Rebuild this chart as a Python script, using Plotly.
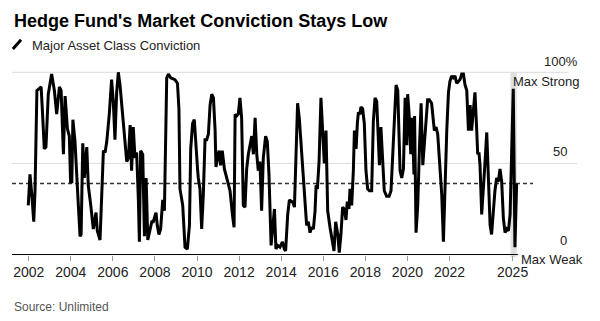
import plotly.graph_objects as go

# ---- data (decimal year, % conviction) ----
dates = [
    2001.98, 2002.06, 2002.14, 2002.24, 2002.30, 2002.39, 2002.50, 2002.59, 2002.66, 2002.74,
    2002.82, 2002.93, 2003.09, 2003.22, 2003.33, 2003.46, 2003.54, 2003.65, 2003.73, 2003.84,
    2003.93, 2003.99, 2004.05, 2004.10, 2004.20, 2004.28, 2004.36, 2004.44, 2004.49, 2004.57,
    2004.64, 2004.76, 2004.83, 2004.95, 2005.07, 2005.20, 2005.26, 2005.39, 2005.55, 2005.63,
    2005.71, 2005.83, 2005.94, 2006.02, 2006.10, 2006.18, 2006.26, 2006.34, 2006.44, 2006.53,
    2006.63, 2006.66, 2006.74, 2006.82, 2006.89, 2006.97, 2007.05, 2007.13, 2007.21, 2007.26,
    2007.32, 2007.42, 2007.50, 2007.58, 2007.66, 2007.77, 2007.85, 2007.92, 2008.05, 2008.11,
    2008.19, 2008.27, 2008.37, 2008.45, 2008.51, 2008.56, 2008.64, 2008.75, 2008.95, 2009.07,
    2009.14, 2009.19, 2009.32, 2009.43, 2009.54, 2009.64, 2009.70, 2009.79, 2009.87, 2009.95,
    2010.03, 2010.06, 2010.14, 2010.22, 2010.30, 2010.38, 2010.46, 2010.54, 2010.62, 2010.70,
    2010.78, 2010.86, 2010.90, 2010.97, 2011.05, 2011.12, 2011.20, 2011.30, 2011.41, 2011.57,
    2011.68, 2011.76, 2011.81, 2011.88, 2011.96, 2012.04, 2012.12, 2012.20, 2012.28, 2012.36,
    2012.44, 2012.52, 2012.60, 2012.68, 2012.76, 2012.84, 2012.91, 2012.99, 2013.07, 2013.15,
    2013.26, 2013.34, 2013.42, 2013.52, 2013.60, 2013.68, 2013.75, 2013.83, 2013.94, 2014.06,
    2014.15, 2014.21, 2014.31, 2014.39, 2014.50, 2014.55, 2014.63, 2014.70, 2014.78, 2014.86,
    2014.97, 2015.08, 2015.21, 2015.29, 2015.37, 2015.45, 2015.53, 2015.61, 2015.66, 2015.72,
    2015.80, 2015.89, 2015.97, 2016.05, 2016.13, 2016.21, 2016.32, 2016.43, 2016.51, 2016.59,
    2016.69, 2016.76, 2016.84, 2016.92, 2017.00, 2017.08, 2017.14, 2017.22, 2017.27, 2017.35,
    2017.43, 2017.48, 2017.56, 2017.62, 2017.67, 2017.75, 2017.79, 2017.87, 2017.95, 2018.03,
    2018.11, 2018.19, 2018.30, 2018.38, 2018.46, 2018.54, 2018.62, 2018.67, 2018.74, 2018.82,
    2018.90, 2019.01, 2019.13, 2019.22, 2019.28, 2019.38, 2019.46, 2019.54, 2019.60, 2019.65,
    2019.73, 2019.81, 2019.89, 2019.97, 2020.01, 2020.08, 2020.16, 2020.23, 2020.31, 2020.34,
    2020.41, 2020.49, 2020.57, 2020.65, 2020.73, 2020.81, 2020.88, 2020.96, 2021.04, 2021.15,
    2021.28, 2021.36, 2021.44, 2021.52, 2021.58, 2021.63, 2021.71, 2021.79, 2021.87, 2021.95,
    2022.02, 2022.10, 2022.18, 2022.26, 2022.34, 2022.42, 2022.50, 2022.58, 2022.66, 2022.74,
    2022.82, 2022.90, 2022.98, 2023.05, 2023.13, 2023.21, 2023.29, 2023.34, 2023.40, 2023.45,
    2023.53, 2023.61, 2023.69, 2023.77, 2023.85, 2023.93, 2024.00, 2024.08, 2024.16, 2024.24,
    2024.32, 2024.40, 2024.48, 2024.56, 2024.64, 2024.72, 2024.80, 2024.88, 2024.95, 2025.03,
    2025.11, 2025.19,
]
conviction = [
    27, 44, 34, 18, 35, 90, 91, 92, 77, 58,
    59, 88, 99, 90, 77, 92, 90, 55, 87, 69,
    65, 40, 40, 74, 62, 40, 27, 10, 11, 61,
    42, 59, 38, 27, 14, 23, 13, 8, 57, 56,
    62, 77, 96, 84, 63, 89, 100, 93, 80, 69,
    55, 51, 53, 71, 46, 70, 53, 56, 31, 7,
    57, 55, 10, 42, 8, 13, 18, 18, 23, 16,
    11, 14, 30, 24, 68, 97, 99, 97, 96, 94,
    80, 36, 27, 4, 3, 16, 58, 72, 74, 57,
    46, 42, 36, 14, 33, 63, 63, 66, 82, 88,
    86, 68, 48, 53, 57, 49, 57, 47, 42, 35,
    22, 15, 77, 76, 77, 86, 75, 27, 26, 47,
    55, 60, 65, 55, 75, 55, 46, 51, 24, 53,
    65, 62, 44, 5, 16, 25, 3, 5, 4, 7,
    3, 2, 22, 30, 29, 29, 26, 49, 83, 75,
    57, 35, 16, 18, 12, 15, 14, 24, 38, 36,
    51, 86, 68, 50, 68, 24, 15, 7, 2, 18,
    11, 1, 11, 26, 25, 19, 29, 25, 36, 27,
    46, 68, 58, 72, 78, 77, 81, 80, 72, 46,
    36, 35, 35, 73, 86, 84, 62, 49, 70, 49,
    35, 32, 32, 35, 51, 77, 93, 90, 58, 46,
    42, 47, 86, 60, 88, 77, 55, 75, 44, 76,
    12, 27, 58, 83, 49, 62, 69, 85, 85, 83,
    68, 70, 66, 53, 40, 33, 7, 46, 68, 89,
    95, 98, 97, 98, 94, 95, 96, 99, 99, 93,
    90, 68, 82, 68, 80, 89, 69, 55, 56, 49,
    22, 40, 51, 67, 42, 16, 11, 25, 35, 42,
    40, 47, 40, 20, 12, 14, 13, 22, 58, 91,
    4, 39,
]
tick_years = [2002, 2004, 2006, 2008, 2010, 2012, 2014, 2016, 2018, 2020, 2022, 2025]
tick_labels = [str(y) for y in tick_years]
highlight_start, highlight_end = 2024.9, 2025.2
latest = conviction[-1]

FONT = "Liberation Sans, Arial, sans-serif"
X0, X1 = 2001.206, 2028.107
Y0, Y1 = -4.1, 106.2
PLOT_L, PLOT_W = 12, 566


def px_to_paper_x(px):
    return (px - PLOT_L) / PLOT_W


fig = go.Figure()
fig.add_trace(go.Scatter(
    x=dates, y=conviction, mode="lines",
    line=dict(color="black", width=3), hoverinfo="skip", showlegend=False,
))

shapes = [
    dict(type="rect", xref="x", yref="y", x0=highlight_start, x1=highlight_end, y0=-1.5, y1=100,
         fillcolor="#e0e0e0", line=dict(width=0), layer="below"),
    dict(type="line", xref="x", yref="y", x0=X0, x1=2027.65, y0=100, y1=100,
         line=dict(color="#dcdcdc", width=1), layer="below"),
    dict(type="line", xref="x", yref="y", x0=X0, x1=2028.07, y0=50, y1=50,
         line=dict(color="#dcdcdc", width=1), layer="below"),
    dict(type="line", xref="x", yref="y", x0=X0, x1=2025.97, y0=latest, y1=latest,
         line=dict(color="#333333", width=1.5, dash="4px,3px"), layer="below"),
    dict(type="line", xref="x", yref="y", x0=X0, x1=2025.25, y0=0, y1=0,
         line=dict(color="#000000", width=1), layer="below"),
    # legend swatch
    dict(type="line", xref="paper", yref="paper", x0=0.0015, x1=0.0160, y0=1.060, y1=1.106,
         line=dict(color="black", width=3)),
]

right_font = dict(family=FONT, size=13, color="#222222")
annotations = [
    dict(text="<b>Hedge Fund's Market Conviction Stays Low</b>", xref="paper", yref="paper",
         x=0.0, y=1.199, xanchor="left", yanchor="middle", showarrow=False,
         font=dict(family=FONT, size=18, color="#000000")),
    dict(text="Major Asset Class Conviction", xref="paper", yref="paper",
         x=0.0318, y=1.0796, xanchor="left", yanchor="middle", showarrow=False,
         font=dict(family=FONT, size=13, color="#222222")),
    dict(text="100%", xref="paper", yref="y", x=px_to_paper_x(580), y=105.8, xanchor="right",
         yanchor="middle", showarrow=False, font=right_font),
    dict(text="Max Strong", xref="paper", yref="y", x=px_to_paper_x(581), y=94.8, xanchor="right",
         yanchor="middle", showarrow=False, font=right_font),
    dict(text="50", xref="paper", yref="y", x=px_to_paper_x(569), y=56.8, xanchor="right",
         yanchor="middle", showarrow=False, font=right_font),
    dict(text="0", xref="paper", yref="y", x=px_to_paper_x(569), y=7.6, xanchor="right",
         yanchor="middle", showarrow=False, font=right_font),
    dict(text="Max Weak", xref="paper", yref="y", x=px_to_paper_x(585), y=-2.6, xanchor="right",
         yanchor="middle", showarrow=False, font=right_font),
    dict(text="Source: Unlimited", xref="paper", yref="paper", x=0.0, y=-0.2255,
         xanchor="left", yanchor="middle", showarrow=False,
         font=dict(family=FONT, size=12, color="#555555")),
]

fig.update_layout(
    width=600, height=321,
    margin=dict(l=PLOT_L, r=600 - PLOT_L - PLOT_W, t=61, b=59, pad=0),
    paper_bgcolor="white", plot_bgcolor="white",
    showlegend=False,
    shapes=shapes, annotations=annotations,
    xaxis=dict(
        range=[X0, X1], anchor="free", position=(0 - Y0) / (Y1 - Y0),
        tickmode="array", tickvals=tick_years, ticktext=tick_labels,
        ticks="outside", ticklen=5, tickcolor="#999999", tickwidth=1,
        showgrid=False, zeroline=False, showline=False,
        tickfont=dict(family=FONT, size=14, color="#222222"),
        fixedrange=True,
    ),
    yaxis=dict(range=[Y0, Y1], visible=False, showgrid=False, zeroline=False, fixedrange=True),
)

fig.write_html("out.html")
